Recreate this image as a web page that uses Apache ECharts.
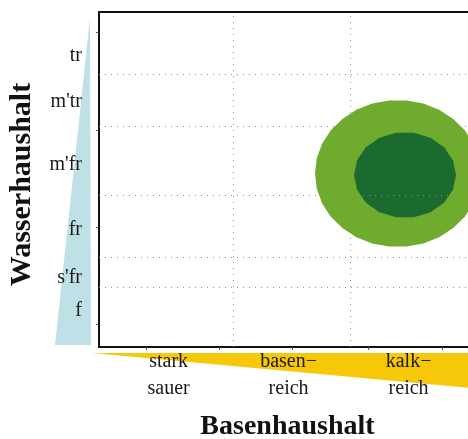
<!DOCTYPE html>
<html>
<head>
<meta charset="utf-8">
<script src="https://cdn.jsdelivr.net/npm/echarts@6/dist/echarts.min.js"></script>
<style>
  html, body { margin: 0; padding: 0; background: #fff; }
  #chart { width: 468px; height: 439px; }
</style>
</head>
<body>
<div id="chart"></div>
<script>
// Base classes along the horizontal axis (class centres in axis units)
const baseClasses = ['stark\nsauer', 'basen\u2212\nreich', 'kalk\u2212\nreich'];
const baseCenters = [1, 2, 3];
const baseBounds = [1.54, 2.51];
const baseTicks = [0.81, 1.42, 2.03, 2.66, 3.28];

// Moisture classes from wet (bottom) to dry (top)
const moistureClasses = ['f', "s'fr", 'fr', "m'fr", "m'tr", 'tr'];
const moistureCenters = [3.6, 6.9, 11.7, 18.2, 24.5, 29.1];
const moistureBounds = [6.0, 9.0, 15.2, 22.1, 27.3];
const moistureTicks = [2.3, 12.0, 21.7, 31.5];

// Zones: [base centre, moisture centre, base half-width, moisture half-height]
const rangeZone = [2.91, 17.35, 0.69, 7.35];
const optimumZone = [2.97, 17.2, 0.425, 4.3];

const SERIF = '"Liberation Serif", "Times New Roman", serif';

function classLabel(values, names) {
  return function (v) {
    const i = values.findIndex(c => Math.abs(c - v) < 1e-6);
    return i >= 0 ? names[i] : '';
  };
}

// Faceted ellipse drawn in axis coordinates
function zoneRenderer(color, sides) {
  return function (params, api) {
    const c = api.coord([api.value(0), api.value(1)]);
    const s = api.size([api.value(2), api.value(3)]);
    const pts = [];
    for (let i = 0; i < sides; i++) {
      const a = (2 * Math.PI * i) / sides;
      pts.push([c[0] + s[0] * Math.cos(a), c[1] + s[1] * Math.sin(a)]);
    }
    return { type: 'polygon', shape: { points: pts }, style: { fill: color } };
  };
}

const chart = echarts.init(document.getElementById('chart'), null, { renderer: 'canvas' });

const dotted = { color: '#8a8a8a', width: 1, type: [1, 5] };

chart.setOption({
  backgroundColor: '#ffffff',
  animation: false,
  graphic: [
    // moisture wedge behind the vertical axis labels
    {
      type: 'polygon', z: -10,
      shape: { points: [[90, 18], [91, 345], [55, 345]] },
      style: { fill: '#bfe0e6' }
    },
    // base wedge under the horizontal axis labels
    {
      type: 'polygon', z: -10,
      shape: { points: [[92, 353], [470, 353], [470, 388]] },
      style: { fill: '#f7c70a' }
    }
  ],
  grid: {
    left: 99, top: 12, right: -24, bottom: 92,
    outerBoundsMode: 'none', containLabel: false,
    show: true, borderColor: '#111', borderWidth: 2, backgroundColor: 'transparent'
  },
  xAxis: {
    type: 'value', min: 0.42, max: 3.695,
    name: 'Basenhaushalt', nameLocation: 'middle', nameGap: 66,
    nameTextStyle: { fontFamily: SERIF, fontWeight: 'bold', fontSize: 28, color: '#111', padding: [0, 16, 0, 0] },
    axisLine: { show: true, onZero: false, lineStyle: { color: '#111', width: 2 } },
    axisTick: { show: true, customValues: baseTicks, length: 3, inside: false, lineStyle: { color: '#555', width: 1 } },
    axisLabel: {
      customValues: baseCenters, formatter: classLabel(baseCenters, baseClasses),
      margin: 1, fontFamily: SERIF, fontSize: 20, lineHeight: 27, color: '#1a1a1a'
    },
    splitLine: { show: false }
  },
  yAxis: {
    type: 'value', min: 0, max: 33.5,
    name: 'Wasserhaushalt', nameLocation: 'middle', nameGap: 62, nameRotate: 90,
    nameTextStyle: { fontFamily: SERIF, fontWeight: 'bold', fontSize: 30, color: '#111', padding: [0, 10, 0, 0] },
    axisLine: { show: true, onZero: false, lineStyle: { color: '#111', width: 2 } },
    axisTick: { show: true, customValues: moistureTicks, length: 3, lineStyle: { color: '#555', width: 1 } },
    axisLabel: {
      customValues: moistureCenters, formatter: classLabel(moistureCenters, moistureClasses),
      margin: 17, fontFamily: SERIF, fontSize: 20, color: '#1a1a1a'
    },
    splitLine: { show: false }
  },
  series: [
    {
      type: 'custom', name: 'Amplitude', z: 2,
      renderItem: zoneRenderer('#6fab2c', 30),
      data: [rangeZone]
    },
    {
      type: 'custom', name: 'Optimum', z: 3,
      renderItem: zoneRenderer('#1b6a2f', 18),
      data: [optimumZone]
    },
    {
      // class boundaries drawn as dotted grid lines above the zones
      type: 'line', z: 10, data: [], silent: true,
      markLine: {
        silent: true, symbol: ['none', 'none'], label: { show: false },
        lineStyle: dotted,
        data: baseBounds.map(v => ({ xAxis: v })).concat(moistureBounds.map(v => ({ yAxis: v })))
      }
    }
  ]
});
</script>
</body>
</html>
